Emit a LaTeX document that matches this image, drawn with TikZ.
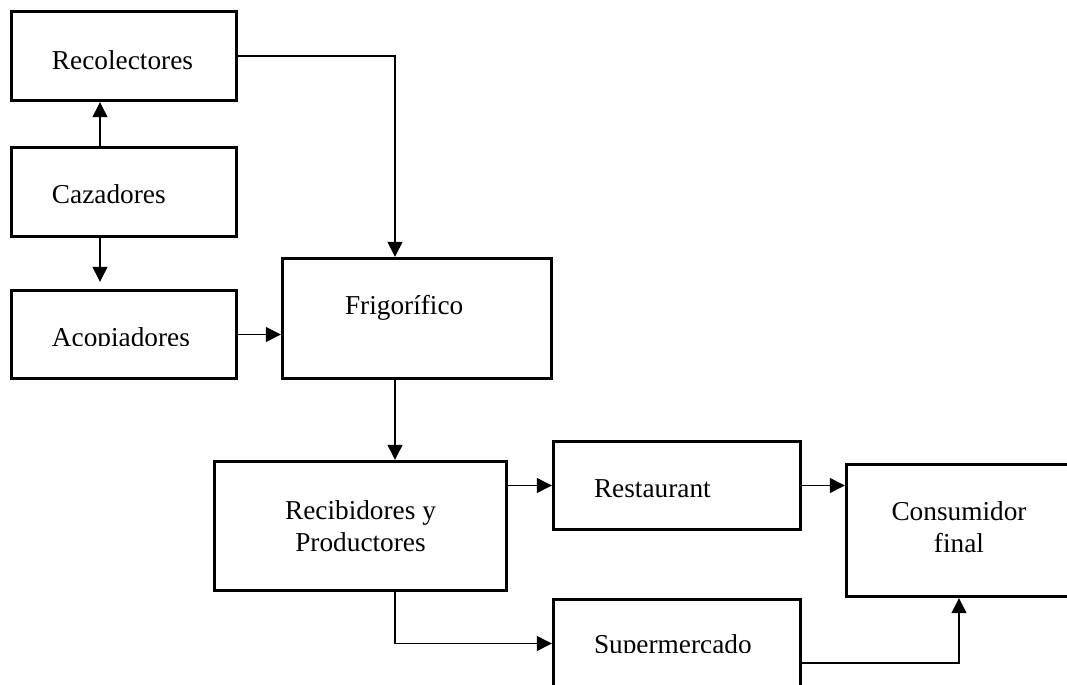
\documentclass[tikz,border=0pt]{standalone}
\usepackage{fontspec}
\setmainfont{Liberation Serif}
\usetikzlibrary{arrows.meta, positioning}
\tikzstyle{block} = [draw, rectangle, line width=1.7pt, font=\fontsize{13.65pt}{16pt}\selectfont, inner ysep=0pt]
\tikzstyle{actor} = [block, align=left, inner xsep=20.25pt, text height=11.5pt, text depth=0pt, minimum height=44.5pt]
\tikzstyle{market} = [actor, text width=83pt, minimum height=44pt]
\tikzstyle{hub} = [block, align=center]
\tikzstyle{flow} = [-{Triangle[length=7.5pt, width=7.5pt]}, line width=0.65pt]
\tikzstyle{cut} = [fill=white]

\begin{document}
\begin{tikzpicture}[x=0.5pt, y=-0.5pt]
    \useasboundingbox (0,0) rectangle (1067,685);
    \clip (0,0) rectangle (1067,685);

    % Suppliers.
    \node (recolectores) [actor, text width=72pt, text height=13pt] at (124,56) {Recolectores};
    \node (cazadores) [actor, text width=72pt] at (124,192) {Cazadores};
    \node (acopiadores) [actor, text width=72pt, minimum height=44pt] at (124,334.5) {Acopiadores};
    \node (frigorifico) [actor, inner xsep=31.25pt, text width=72pt, text depth=16pt, minimum height=60pt] at (417,318.5) {Frigorífico};

    % Distribution.
    \node (recibidores) [hub, minimum width=146pt, minimum height=64.5pt] at (360.5,526) {Recibidores y\\Productores};
    \node (restaurant) [market] at (677,485.5) {Restaurant};
    \node (supermercado) [market, text height=9.5pt] at (677,643.5) {Supermercado};
    \node (consumidor) [hub, minimum width=112.5pt, minimum height=66pt, text height=25.5pt, text depth=4pt] at (959,530.5) {Consumidor\\final};

    % Cut-off descenders.
    \fill [cut] ([xshift=3pt]acopiadores.base west) rectangle ([xshift=-3pt, yshift=-4pt]acopiadores.base east);
    \fill [cut] ([xshift=3pt]supermercado.base west) rectangle ([xshift=-3pt, yshift=-4pt]supermercado.base east);

    % Arrows.
    \coordinate (lane) at (100,0);
    \coordinate (col) at (395,0);
    \draw [flow] (lane |- cazadores.north) -- (lane |- recolectores.south);
    \draw [flow, shorten >=3.5pt] (lane |- cazadores.south) -- (lane |- acopiadores.north);
    \draw [flow] (acopiadores.east) -- (acopiadores.east -| frigorifico.west);
    \draw [flow] (recolectores.east) -| (col |- frigorifico.north);
    \draw [flow] (col |- frigorifico.south) -- (col |- recibidores.north);
    \draw [flow] (recibidores.east |- restaurant.west) -- (restaurant.west);
    \draw [flow] (col |- recibidores.south) |- (supermercado.west);
    \draw [flow] (restaurant.east) -- (restaurant.east -| consumidor.west);
    \draw [flow] ([yshift=-9.75pt]supermercado.east) -| (consumidor.south);
\end{tikzpicture}
\end{document}
